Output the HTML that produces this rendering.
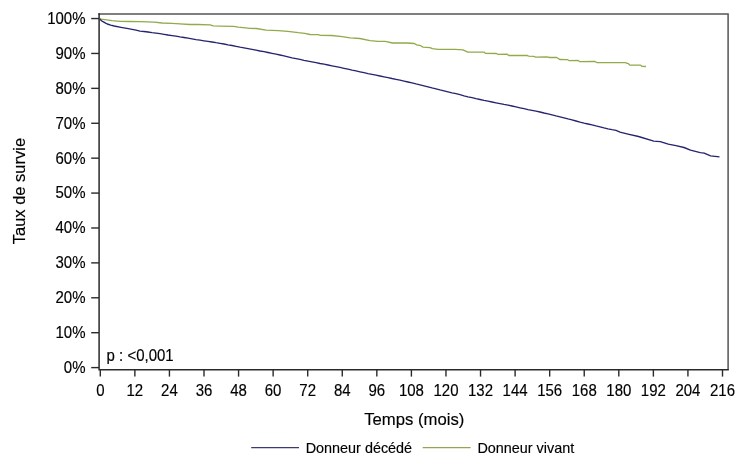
<!DOCTYPE html>
<html><head><meta charset="utf-8">
<style>
html,body{margin:0;padding:0;background:#fff;}
svg{display:block;will-change:transform;}
text{font-family:"Liberation Sans",sans-serif;font-size:15px;fill:#000;stroke:#000;stroke-width:0.15px;}
.ax{stroke:#2a2a2a;stroke-width:1.4;}
</style></head><body>
<svg width="745" height="466" viewBox="0 0 745 466">
<rect x="0" y="0" width="745" height="466" fill="#fff"/>
<path d="M98.3 14.05 H728.1 V369.8" fill="none" stroke="#555" stroke-width="1.5"/>
<path d="M99.1 13.3 V369.8 H728.8" fill="none" stroke="#2a2a2a" stroke-width="1.5"/>
<line x1="91.2" y1="367.60" x2="99" y2="367.60" class="ax"/>
<text transform="translate(85.5,372.95) scale(1,1.045)" text-anchor="end">0%</text>
<line x1="91.2" y1="332.70" x2="99" y2="332.70" class="ax"/>
<text transform="translate(85.5,338.05) scale(1,1.045)" text-anchor="end">10%</text>
<line x1="91.2" y1="297.79" x2="99" y2="297.79" class="ax"/>
<text transform="translate(85.5,303.14) scale(1,1.045)" text-anchor="end">20%</text>
<line x1="91.2" y1="262.88" x2="99" y2="262.88" class="ax"/>
<text transform="translate(85.5,268.24) scale(1,1.045)" text-anchor="end">30%</text>
<line x1="91.2" y1="227.98" x2="99" y2="227.98" class="ax"/>
<text transform="translate(85.5,233.33) scale(1,1.045)" text-anchor="end">40%</text>
<line x1="91.2" y1="193.08" x2="99" y2="193.08" class="ax"/>
<text transform="translate(85.5,198.43) scale(1,1.045)" text-anchor="end">50%</text>
<line x1="91.2" y1="158.17" x2="99" y2="158.17" class="ax"/>
<text transform="translate(85.5,163.52) scale(1,1.045)" text-anchor="end">60%</text>
<line x1="91.2" y1="123.27" x2="99" y2="123.27" class="ax"/>
<text transform="translate(85.5,128.62) scale(1,1.045)" text-anchor="end">70%</text>
<line x1="91.2" y1="88.36" x2="99" y2="88.36" class="ax"/>
<text transform="translate(85.5,93.71) scale(1,1.045)" text-anchor="end">80%</text>
<line x1="91.2" y1="53.45" x2="99" y2="53.45" class="ax"/>
<text transform="translate(85.5,58.80) scale(1,1.045)" text-anchor="end">90%</text>
<line x1="91.2" y1="18.55" x2="99" y2="18.55" class="ax"/>
<text transform="translate(85.5,23.90) scale(1,1.045)" text-anchor="end">100%</text>
<line x1="100.30" y1="369.5" x2="100.30" y2="376.6" class="ax"/>
<text transform="translate(100.30,395.8) scale(1,1.045)" text-anchor="middle">0</text>
<line x1="134.87" y1="369.5" x2="134.87" y2="376.6" class="ax"/>
<text transform="translate(134.87,395.8) scale(1,1.045)" text-anchor="middle">12</text>
<line x1="169.43" y1="369.5" x2="169.43" y2="376.6" class="ax"/>
<text transform="translate(169.43,395.8) scale(1,1.045)" text-anchor="middle">24</text>
<line x1="204.00" y1="369.5" x2="204.00" y2="376.6" class="ax"/>
<text transform="translate(204.00,395.8) scale(1,1.045)" text-anchor="middle">36</text>
<line x1="238.57" y1="369.5" x2="238.57" y2="376.6" class="ax"/>
<text transform="translate(238.57,395.8) scale(1,1.045)" text-anchor="middle">48</text>
<line x1="273.13" y1="369.5" x2="273.13" y2="376.6" class="ax"/>
<text transform="translate(273.13,395.8) scale(1,1.045)" text-anchor="middle">60</text>
<line x1="307.70" y1="369.5" x2="307.70" y2="376.6" class="ax"/>
<text transform="translate(307.70,395.8) scale(1,1.045)" text-anchor="middle">72</text>
<line x1="342.27" y1="369.5" x2="342.27" y2="376.6" class="ax"/>
<text transform="translate(342.27,395.8) scale(1,1.045)" text-anchor="middle">84</text>
<line x1="376.83" y1="369.5" x2="376.83" y2="376.6" class="ax"/>
<text transform="translate(376.83,395.8) scale(1,1.045)" text-anchor="middle">96</text>
<line x1="411.40" y1="369.5" x2="411.40" y2="376.6" class="ax"/>
<text transform="translate(411.40,395.8) scale(1,1.045)" text-anchor="middle">108</text>
<line x1="445.97" y1="369.5" x2="445.97" y2="376.6" class="ax"/>
<text transform="translate(445.97,395.8) scale(1,1.045)" text-anchor="middle">120</text>
<line x1="480.53" y1="369.5" x2="480.53" y2="376.6" class="ax"/>
<text transform="translate(480.53,395.8) scale(1,1.045)" text-anchor="middle">132</text>
<line x1="515.10" y1="369.5" x2="515.10" y2="376.6" class="ax"/>
<text transform="translate(515.10,395.8) scale(1,1.045)" text-anchor="middle">144</text>
<line x1="549.67" y1="369.5" x2="549.67" y2="376.6" class="ax"/>
<text transform="translate(549.67,395.8) scale(1,1.045)" text-anchor="middle">156</text>
<line x1="584.23" y1="369.5" x2="584.23" y2="376.6" class="ax"/>
<text transform="translate(584.23,395.8) scale(1,1.045)" text-anchor="middle">168</text>
<line x1="618.80" y1="369.5" x2="618.80" y2="376.6" class="ax"/>
<text transform="translate(618.80,395.8) scale(1,1.045)" text-anchor="middle">180</text>
<line x1="653.37" y1="369.5" x2="653.37" y2="376.6" class="ax"/>
<text transform="translate(653.37,395.8) scale(1,1.045)" text-anchor="middle">192</text>
<line x1="687.93" y1="369.5" x2="687.93" y2="376.6" class="ax"/>
<text transform="translate(687.93,395.8) scale(1,1.045)" text-anchor="middle">204</text>
<line x1="722.50" y1="369.5" x2="722.50" y2="376.6" class="ax"/>
<text transform="translate(722.50,395.8) scale(1,1.045)" text-anchor="middle">216</text>
<path d="M99.5 18.6 L101.4 19.2 L112.1 20.6 L120.2 21.4 L130.0 21.5 L139.7 21.7 L154.2 22.2 L162.2 23.0 L171.9 23.3 L179.9 23.8 L190.0 24.5 L198.0 24.5 L210.1 24.8 L213.3 25.9 L220.6 26.1 L233.5 26.4 L238.3 27.1 L250.0 28.4 L256.4 28.5 L266.1 30.1 L278.2 30.6 L287.8 31.3 L298.3 32.7 L304.8 33.3 L310.0 34.5 L318.1 34.7 L320.5 35.3 L331.7 35.5 L342.2 36.7 L350.3 37.9 L359.9 38.5 L370.0 40.6 L378.1 41.3 L385.3 41.4 L392.5 43.0 L407.0 43.0 L414.3 43.5 L416.7 44.9 L420.7 45.7 L423.1 47.1 L430.0 47.7 L432.4 48.7 L438.1 49.3 L455.0 49.3 L463.0 49.9 L467.8 52.1 L484.0 52.1 L485.6 53.4 L496.4 53.5 L498.1 54.3 L506.9 54.1 L508.9 55.5 L527.0 55.3 L528.6 56.1 L533.9 56.3 L535.5 57.1 L546.4 56.9 L550.0 57.5 L556.4 57.3 L559.7 59.5 L567.7 59.7 L569.3 60.7 L578.2 60.5 L579.8 61.7 L595.1 61.5 L597.1 62.7 L625.3 62.6 L627.3 63.3 L628.5 63.7 L629.8 65.1 L640.6 65.1 L641.8 66.3 L645.9 66.5" fill="none" stroke="#8fab4a" stroke-width="1.3" stroke-linejoin="round"/>
<path d="M99.5 18.6 L100.4 19.7 L102.0 21.1 L103.9 22.2 L105.6 23.2 L107.3 24.0 L110.7 25.1 L114.2 26.0 L121.0 27.3 L128.2 28.7 L136.0 30.1 L140.0 31.1 L144.0 31.5 L148.0 32.0 L152.0 32.6 L156.0 33.1 L160.0 33.7 L164.0 34.3 L168.0 35.0 L172.0 35.6 L176.0 36.2 L180.0 36.9 L184.0 37.5 L188.0 38.2 L192.0 38.9 L196.0 39.6 L200.0 40.2 L204.0 40.8 L208.0 41.4 L212.0 42.0 L216.0 42.7 L220.0 43.3 L224.0 44.0 L228.0 44.8 L232.0 45.5 L236.0 46.3 L240.0 47.1 L244.0 47.8 L248.0 48.6 L252.0 49.4 L256.0 50.2 L260.0 51.0 L264.0 51.7 L268.0 52.5 L272.0 53.3 L276.0 54.1 L280.0 55.0 L284.0 55.9 L288.0 56.8 L292.0 57.8 L296.0 58.6 L300.0 59.4 L304.0 60.3 L308.0 61.1 L312.0 61.9 L316.0 62.7 L320.0 63.5 L324.0 64.2 L328.0 65.0 L332.0 65.8 L336.0 66.6 L340.0 67.4 L344.0 68.3 L348.0 69.2 L352.0 70.1 L356.0 70.9 L360.0 71.8 L364.0 72.7 L368.0 73.6 L372.0 74.4 L376.0 75.2 L380.0 76.0 L384.0 76.8 L388.0 77.6 L392.0 78.5 L396.0 79.3 L400.0 80.2 L404.0 81.1 L408.0 82.0 L412.0 82.9 L416.0 83.9 L420.0 84.8 L424.0 85.8 L428.0 86.8 L432.0 87.9 L436.0 88.9 L440.0 89.9 L444.0 90.8 L448.0 91.8 L452.0 92.8 L456.0 93.7 L460.0 94.7 L464.0 95.8 L468.0 96.8 L472.0 97.7 L476.0 98.7 L480.0 99.5 L484.0 100.4 L488.0 101.2 L492.0 102.0 L496.0 102.8 L500.0 103.6 L504.0 104.4 L508.0 105.1 L512.0 106.0 L516.0 106.9 L520.0 107.8 L524.0 108.7 L528.0 109.6 L532.0 110.4 L536.0 111.2 L540.0 112.0 L544.0 113.0 L548.0 113.9 L552.0 114.9 L556.0 115.9 L560.0 116.8 L564.0 117.8 L568.0 118.9 L572.0 119.9 L576.0 121.0 L580.0 122.1 L584.0 123.1 L588.0 124.0 L592.0 124.9 L596.0 125.9 L600.0 126.8 L604.0 127.9 L608.0 128.9 L612.0 129.7 L616.0 130.4 L620.0 132.1 L628.0 134.1 L638.5 136.5 L653.8 141.1 L660.3 141.6 L668.3 144.2 L676.0 145.7 L684.0 147.5 L690.5 150.1 L700.2 152.7 L704.2 153.1 L710.6 155.8 L719.5 156.9" fill="none" stroke="#24246f" stroke-width="1.35" stroke-linejoin="round"/>
<text transform="translate(106.6,360.7) scale(1,1.045)">p : &lt;0,001</text>
<text x="414.3" y="425.0" text-anchor="middle" style="font-size:16.7px">Temps (mois)</text>
<text transform="translate(25.2,191.1) rotate(-90)" text-anchor="middle" style="font-size:16.5px">Taux de survie</text>
<line x1="251.2" y1="447.6" x2="299" y2="447.6" stroke="#3c3a72" stroke-width="1.4"/>
<text x="305.7" y="452.6" style="font-size:14.4px">Donneur décédé</text>
<line x1="422.7" y1="447.6" x2="470.6" y2="447.6" stroke="#8ea655" stroke-width="1.4"/>
<text x="477.4" y="452.6" style="font-size:14.4px">Donneur vivant</text>
</svg>
</body></html>
